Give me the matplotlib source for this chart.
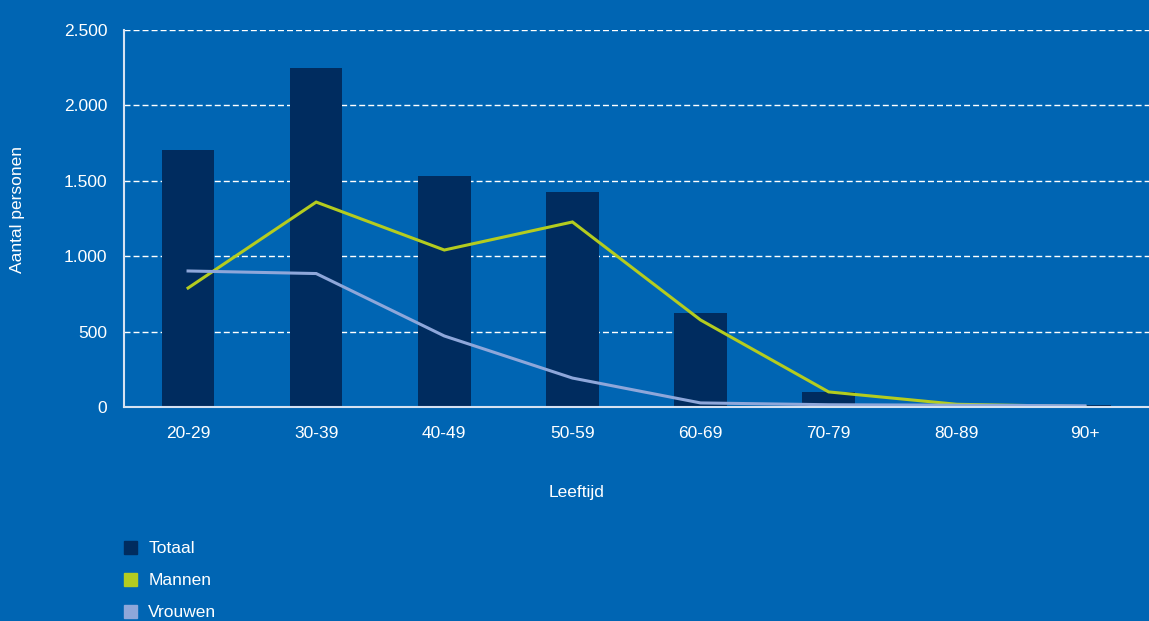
import matplotlib
matplotlib.use("Agg")
import matplotlib.pyplot as plt
from matplotlib.patches import Patch

categories = ["20-29", "30-39", "40-49", "50-59", "60-69", "70-79", "80-89", "90+"]
totaal = [1704, 2248, 1532, 1426, 623, 100, 8, 15]
mannen = [789, 1359, 1041, 1227, 577, 100, 18, 3]
vrouwen = [902, 885, 471, 192, 27, 15, 12, 8]
yticks = [0, 500, 1000, 1500, 2000, 2500]
yticklabels = ["0", "500", "1.000", "1.500", "2.000", "2.500"]

plt.rcParams["font.family"] = ["Liberation Sans", "DejaVu Sans"]

BG = "#0065b3"
BAR = "#002c5f"
GREEN = "#b4cc1f"
LAV = "#8ea7da"
WHITE = "#ffffff"

fig = plt.figure(figsize=(11.49, 6.21), dpi=100, facecolor=BG)
ax = fig.add_axes([124/1149, 1-407/621, 1-124/1149, (407-30)/621])
ax.set_facecolor(BG)

x = list(range(len(categories)))
ax.bar(x, totaal, width=0.41, color=BAR, zorder=3)
ax.plot(x, mannen, color=GREEN, lw=2.2, zorder=4, solid_joinstyle="miter")
ax.plot(x, vrouwen, color=LAV, lw=2.2, zorder=4, solid_joinstyle="miter")

ax.set_xlim(-0.5, len(categories) - 0.5)
ax.set_ylim(0, 2500)
ax.set_yticks(yticks)
ax.set_yticklabels(yticklabels)
ax.set_xticks(x)
ax.set_xticklabels(categories)
for yv in yticks[1:]:
    ax.axhline(yv, color=WHITE, lw=1.0, ls=(0, (4.3, 2.2)), zorder=1)

ax.tick_params(axis="both", length=0, colors=WHITE, labelsize=12.5)
ax.tick_params(axis="y", pad=12)
ax.tick_params(axis="x", pad=14)
for s in ["top", "right"]:
    ax.spines[s].set_visible(False)
for s in ["left", "bottom"]:
    ax.spines[s].set_color("#d6e2f2")
    ax.spines[s].set_linewidth(1.5)
    ax.spines[s].set_zorder(5)

fig.text(577/1149, 1-492/621, "Leeftijd", color=WHITE, fontsize=12.5, ha="center", va="center")
fig.text(18/1149, 1-210/621, "Aantal personen", color=WHITE, fontsize=12.5, ha="center", va="center", rotation=90)

handles = [Patch(color=BAR, label="Totaal"), Patch(color=GREEN, label="Mannen"), Patch(color=LAV, label="Vrouwen")]
leg = fig.legend(handles=handles, loc="upper left", bbox_to_anchor=(124/1149, 1-541/621),
                 frameon=False, fontsize=12.5, handlelength=0.75, handleheight=0.75,
                 handletextpad=0.65, labelspacing=0.95, borderaxespad=0, borderpad=0)
for t in leg.get_texts():
    t.set_color(WHITE)

fig.savefig("out.png", dpi=100, facecolor=BG)
